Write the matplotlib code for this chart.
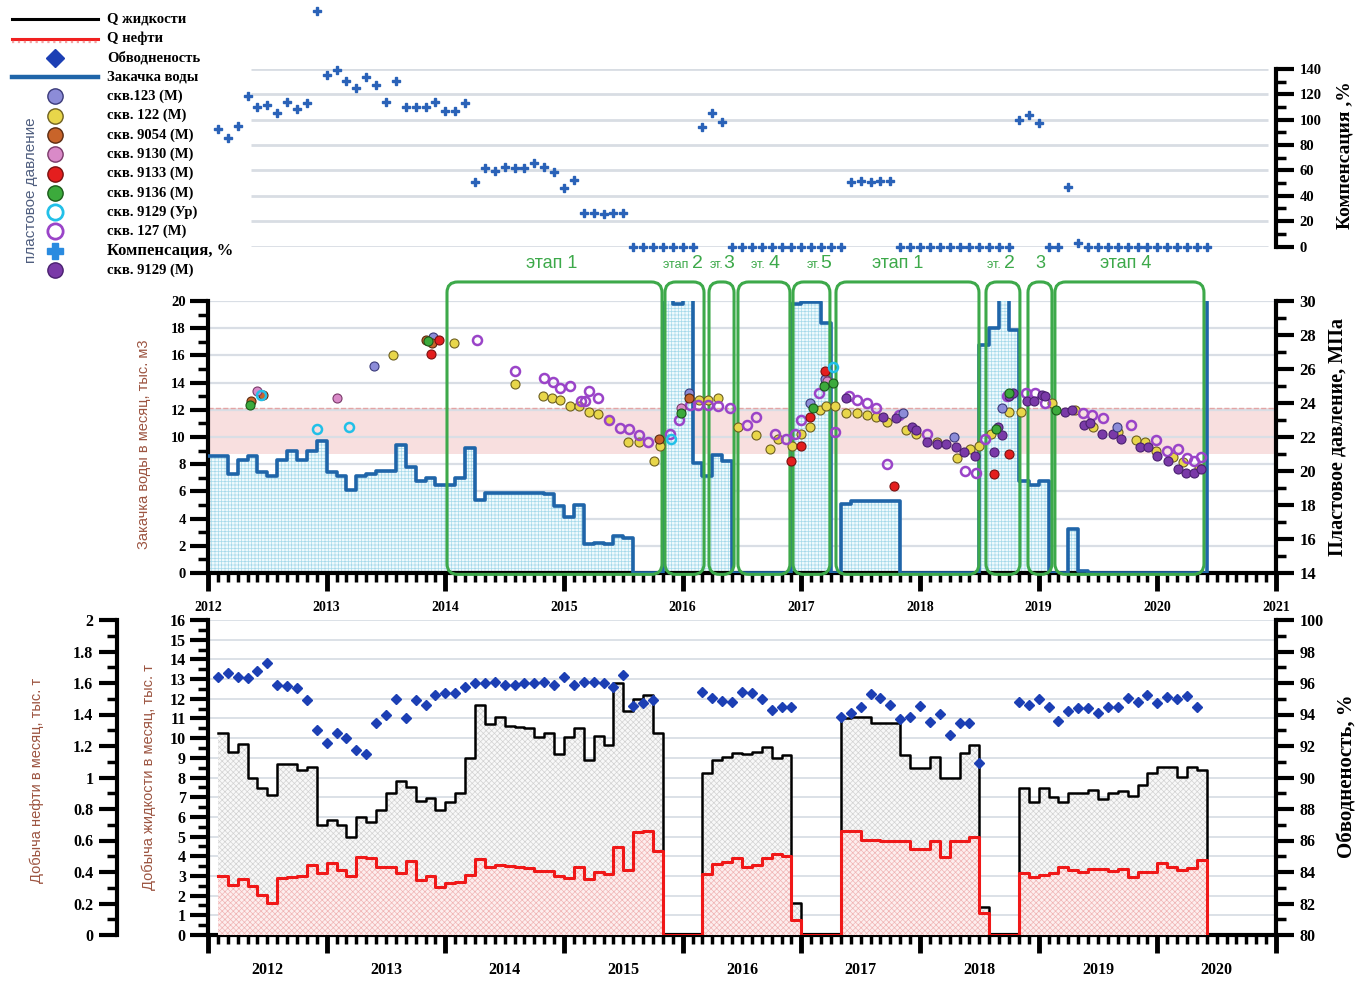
import numpy as np
import matplotlib
matplotlib.use("Agg")
import matplotlib.pyplot as plt
from matplotlib.patches import FancyBboxPatch
from matplotlib.ticker import MultipleLocator, FuncFormatter

plt.rcParams["font.family"] = ["Liberation Serif", "DejaVu Serif"]
plt.rcParams["font.weight"] = "bold"
plt.rcParams["hatch.linewidth"] = 0.5

nan = np.nan
START_YEAR = 2012

# Закачка воды, тыс. м3 в месяц (с января 2012)
injection = [8.6, 8.6, 7.3, 8.3, 8.6, 7.4, 7.1, 8.3, 9.0, 8.3, 9.0, 9.7,
             7.4, 7.1, 6.1, 7.1, 7.3, 7.5, 7.5, 9.4, 7.8, 6.8, 7.0, 6.5,
             6.5, 7.0, 9.2, 5.4, 5.9, 5.9, 5.9, 5.85, 5.9, 5.9, 5.8, 4.9,
             4.1, 5.0, 2.1, 2.2, 2.1, 2.7, 2.6, 0, 0, 0, 20.4, 19.8,
             20.4, 8.1, 7.1, 8.7, 8.2, 0, 0, 0, 0, 0, 0, 19.8,
             19.9, 19.9, 18.4, 0, 5.1, 5.3, 5.3, 5.3, 5.3, 5.3, 0, 0,
             0, 0, 0, 0, 0, 0, 16.8, 18.0, 20.4, 17.9, 6.8, 6.5,
             6.8, 0, 0, 3.2, 0.15, 0, 0, 0, 0, 0, 0, 0,
             0, 0, 0, 0, 0, 20.5]

# Компенсация, % (с февраля 2012)
compensation = [92.5, 85.4, 95.1, 118.8, 110.3, 111.7, 105.1, 114.3, 108.5, 113.0, 186.0,
                135.3, 139.2, 130.8, 124.8, 133.5, 127.4, 114.3, 130.8, 110.3, 110.3, 110.3, 114.3,
                106.9, 106.9, 113.0, 51.2, 61.8, 59.7, 62.6, 61.8, 62.3, 65.7, 63.0, 59.1,
                46.0, 52.6, 26.3, 26.3, 25.4, 26.3, 26.3, 0, 0, 0, 0, 0,
                0, 0, 94.6, 105.6, 98.5, 0, 0, 0, 0, 0, 0, 0,
                0, 0, 0, 0, 0, 51.2, 51.6, 51.0, 51.4, 51.6, 0, 0,
                0, 0, 0, 0, 0, 0, 0, 0, 0, 0, 99.8, 103.8,
                97.7, 0, 0, 47.3, 2.7, 0, 0, 0, 0, 0, 0, 0,
                0, 0, 0, 0, 0, 0]

# Добыча жидкости, тыс. т (с февраля 2012)
liquid = [10.24, 9.3, 9.7, 8.0, 7.45, 7.1, 8.7, 8.7, 8.4, 8.55, 5.6,
          5.85, 5.6, 5.0, 6.0, 5.75, 6.35, 7.2, 7.8, 7.5, 6.8, 6.95, 6.35,
          6.77, 7.23, 8.97, 11.68, 10.72, 11.09, 10.61, 10.58, 10.5, 10.07, 10.24, 9.19,
          10.04, 10.5, 8.89, 10.1, 9.65, 12.78, 11.39, 11.97, 12.19, 10.24, 0, 0,
          0, 0, 8.21, 8.89, 9.06, 9.26, 9.19, 9.31, 9.56, 9.0, 9.14, 1.64,
          0, 0, 0, 0, 11.0, 11.09, 11.09, 10.75, 10.75, 10.75, 9.14, 8.47,
          8.47, 9.06, 7.96, 7.99, 9.23, 9.65, 1.44, 0, 0, 0, 7.45, 6.77,
          7.45, 7.02, 6.77, 7.23, 7.23, 7.36, 6.89, 7.23, 7.3, 7.06, 7.62, 8.21,
          8.52, 8.52, 8.01, 8.55, 8.38, 0]

# Добыча нефти, тыс. т
oil = [0.375, 0.318, 0.354, 0.311, 0.254, 0.201, 0.36, 0.37, 0.373, 0.444, 0.391,
       0.455, 0.413, 0.375, 0.498, 0.491, 0.434, 0.434, 0.391, 0.47, 0.349, 0.375, 0.306,
       0.328, 0.338, 0.381, 0.48, 0.434, 0.444, 0.438, 0.434, 0.424, 0.409, 0.409, 0.375,
       0.364, 0.434, 0.354, 0.403, 0.385, 0.561, 0.413, 0.656, 0.663, 0.535, 0, 0,
       0, 0, 0.388, 0.449, 0.465, 0.488, 0.43, 0.444, 0.488, 0.514, 0.501, 0.095,
       0, 0, 0, 0, 0.66, 0.66, 0.603, 0.603, 0.599, 0.599, 0.599, 0.548,
       0.548, 0.599, 0.494, 0.599, 0.599, 0.625, 0.138, 0, 0, 0, 0.395, 0.37,
       0.381, 0.391, 0.434, 0.413, 0.403, 0.416, 0.416, 0.409, 0.416, 0.366, 0.403, 0.403,
       0.455, 0.434, 0.413, 0.423, 0.476, 0]

# Обводненность, %
water_cut = [96.36, 96.65, 96.4, 96.3, 96.76, 97.3, 95.87, 95.8, 95.66, 94.9, 93.0,
             92.17, 92.8, 92.5, 91.75, 91.47, 93.44, 93.97, 94.98, 93.8, 94.9, 94.6, 95.24,
             95.35, 95.38, 95.77, 95.98, 96.0, 96.08, 95.87, 95.9, 95.98, 96.0, 96.08, 95.87,
             96.4, 95.87, 96.08, 96.08, 96.0, 95.73, 96.5, 94.54, 94.7, 94.92, nan, nan,
             nan, nan, 95.45, 95.07, 94.88, 94.8, 95.45, 95.38, 94.98, 94.29, 94.5, 94.5,
             nan, nan, nan, nan, 93.86, 94.11, 94.5, 95.28, 95.03, 94.6, 93.7, 93.86,
             94.54, 93.54, 94.03, 92.7, 93.48, 93.48, 90.94, nan, nan, nan, 94.8, 94.6,
             94.98, 94.45, 93.61, 94.22, 94.43, 94.43, 94.11, 94.5, 94.45, 95.03, 94.82, 95.24,
             94.7, 95.09, 94.98, 95.17, 94.45, nan]

# Пластовое давление по скважинам, МПа
t_123 = [2013.40, 2013.90, 2016.05, 2017.07, 2017.20, 2017.86, 2018.29, 2018.69, 2019.66]
p_123 = [26.2, 27.9, 24.6, 24.0, 25.4, 23.4, 22.0, 23.7, 22.6]

t_122 = [2013.56, 2014.07, 2014.59, 2014.82, 2014.90, 2014.97, 2015.05, 2015.13, 2015.21,
         2015.29, 2015.38, 2015.54, 2015.63, 2015.76, 2015.81, 2016.14, 2016.21, 2016.30,
         2016.47, 2016.62, 2016.74, 2016.80, 2016.92, 2017.00, 2017.07, 2017.16, 2017.21,
         2017.28, 2017.38, 2017.47, 2017.55, 2017.63, 2017.72, 2017.88, 2017.97, 2018.14,
         2018.31, 2018.42, 2018.50, 2018.60, 2018.75, 2018.85, 2019.11, 2019.31, 2019.46,
         2019.67, 2019.82, 2019.90, 2019.99, 2020.13, 2020.22, 2020.35]
p_122 = [26.8, 27.5, 25.1, 24.4, 24.3, 24.2, 23.8, 23.8, 23.5,
         23.35, 23.0, 21.7, 21.7, 20.6, 21.5, 24.2, 24.2, 24.3,
         22.6, 22.1, 21.3, 21.9, 21.5, 22.2, 22.6, 23.6, 23.8,
         23.8, 23.4, 23.4, 23.3, 23.2, 22.9, 22.4, 22.2, 21.7,
         20.75, 21.3, 21.5, 22.2, 23.5, 23.5, 24.0, 23.6, 22.6,
         22.3, 21.8, 21.7, 21.2, 20.8, 20.55, 20.2]

t_9054 = [2012.36, 2012.46, 2013.84, 2013.89, 2015.80, 2016.05]
p_9054 = [24.1, 24.5, 27.7, 27.5, 21.9, 24.3]

t_9130 = [2012.41, 2013.09, 2015.99, 2017.22]
p_9130 = [24.7, 24.3, 23.7, 25.3]

t_9133 = [2013.88, 2013.95, 2016.91, 2017.00, 2017.07, 2017.20, 2017.78, 2018.62, 2018.75]
p_9133 = [26.9, 27.7, 20.6, 21.5, 23.2, 25.9, 19.1, 19.8, 21.0]

t_9136 = [2012.35, 2013.85, 2015.99, 2017.10, 2017.19, 2017.27, 2018.64, 2018.75, 2019.15]
p_9136 = [23.9, 27.65, 23.4, 23.7, 25.0, 25.2, 22.5, 24.6, 23.6]

t_9129u = [2012.45, 2012.92, 2013.19, 2015.90, 2017.27]
p_9129u = [24.5, 22.5, 22.6, 21.9, 26.1]

t_127 = [2014.27, 2014.59, 2014.83, 2014.91, 2014.97, 2015.05, 2015.14, 2015.18, 2015.21,
         2015.29, 2015.38, 2015.47, 2015.55, 2015.63, 2015.71, 2015.89, 2015.97, 2016.06,
         2016.13, 2016.21, 2016.30, 2016.40, 2016.54, 2016.62, 2016.78, 2016.87, 2016.95,
         2017.00, 2017.15, 2017.28, 2017.40, 2017.47, 2017.55, 2017.63, 2017.72, 2017.82,
         2018.06, 2018.38, 2018.47, 2018.55, 2018.73, 2018.89, 2018.97, 2019.05, 2019.37,
         2019.45, 2019.54, 2019.78, 2019.99, 2020.08, 2020.17, 2020.25, 2020.31, 2020.37]
p_127 = [27.7, 25.9, 25.45, 25.25, 24.9, 25.0, 24.1, 24.1, 24.7,
         24.3, 23.0, 22.55, 22.5, 22.1, 21.7, 22.2, 23.0, 23.9,
         23.9, 23.9, 23.8, 23.7, 22.7, 23.2, 22.2, 21.9, 22.2,
         23.0, 24.6, 22.3, 24.4, 24.2, 24.0, 23.7, 20.4, 23.3,
         22.2, 20.0, 19.9, 21.9, 24.4, 24.6, 24.6, 24.0, 23.4,
         23.3, 23.1, 22.7, 21.8, 21.2, 21.3, 20.75, 20.6, 20.8]

t_9129m = [2017.20, 2017.38, 2017.69, 2017.80, 2017.93, 2017.97, 2018.06, 2018.14, 2018.22,
           2018.30, 2018.37, 2018.46, 2018.62, 2018.66, 2018.69, 2018.75, 2018.78, 2018.90,
           2018.96, 2019.03, 2019.05, 2019.22, 2019.28, 2019.38, 2019.43, 2019.53, 2019.63,
           2019.69, 2019.85, 2019.92, 2020.00, 2020.09, 2020.17, 2020.24, 2020.31, 2020.37]
p_9129m = [25.1, 24.3, 23.2, 23.1, 22.6, 22.4, 21.7, 21.6, 21.6,
           21.4, 21.1, 20.9, 21.1, 22.6, 22.1, 24.4, 24.6, 24.1,
           24.1, 24.5, 24.4, 23.5, 23.6, 22.7, 22.8, 22.2, 22.2,
           21.9, 21.4, 21.4, 20.9, 20.6, 20.1, 19.9, 19.9, 20.1]

# Этапы
stage_start = [2014.014, 2015.851, 2016.222, 2016.466, 2016.930, 2017.292, 2018.556, 2018.910, 2019.137]
stage_end = [2015.826, 2016.180, 2016.433, 2016.904, 2017.241, 2018.497, 2018.842, 2019.112, 2020.393]
stage_prefix = ["", "этап ", "эт.", "эт. ", "эт.", "", "эт. ", "", ""]
stage_main = ["этап 1", "2", "3", "4", "5", "этап 1", "2", "3", "этап 4"]
stage_label_x = [2014.90, 2016.08, 2016.34, 2016.72, 2017.16, 2017.81, 2018.71, 2019.01, 2019.73]

legend_labels = ["Q жидкости", "Q нефти", "Обводненость", "Закачка воды",
                 "скв.123 (М)", "скв. 122 (М)", "скв. 9054 (М)", "скв. 9130 (М)",
                 "скв. 9133 (М)", "скв. 9136 (М)", "скв. 9129 (Ур)", "скв. 127 (М)",
                 "Компенсация, %", "скв. 9129 (М)"]

W, H = 1357, 982
GREEN = "#3da94a"
BROWN = "#9c5440"
INJ_BLUE = "#1f65a9"
WC_BLUE = "#1c3fb4"
SANS = "Liberation Sans"

wells = [
    (t_123, p_123, dict(mfc="#8c8cd8", mec="#3a3a7a")),
    (t_122, p_122, dict(mfc="#e8d64a", mec="#6e6020")),
    (t_9054, p_9054, dict(mfc="#c8642a", mec="#5a2a10")),
    (t_9130, p_9130, dict(mfc="#d98ac8", mec="#7a3a6a")),
    (t_9133, p_9133, dict(mfc="#e41e1e", mec="#7a1010")),
    (t_9136, p_9136, dict(mfc="#3caa3c", mec="#1a5a1a")),
    (t_9129u, p_9129u, dict(mfc="none", mec="#22c0e8", mew=1.8)),
    (t_127, p_127, dict(mfc="none", mec="#9a44c8", mew=1.8)),
    (t_9129m, p_9129m, dict(mfc="#7a3aa8", mec="#4a2070")),
]


def rect(x0, y0, x1, y1):
    # пиксели исходной картинки -> доли фигуры
    return [x0 / W, 1 - y1 / H, (x1 - x0) / W, (y1 - y0) / H]


def style_y(ax, major, minor, labelsize, pad, side):
    ax.yaxis.set_major_locator(MultipleLocator(major))
    ax.yaxis.set_minor_locator(MultipleLocator(minor))
    ax.tick_params(axis="y", which="major", direction="out", length=13, width=3,
                   labelsize=labelsize, pad=pad)
    ax.tick_params(axis="y", which="minor", direction="out", length=7, width=2.5)
    for s in ["left", "right", "top"]:
        if s != side:
            ax.spines[s].set_visible(False)
    ax.spines[side].set_visible(True)
    ax.spines[side].set_linewidth(3)


def style_x(ax):
    ax.set_xlim(2012, 2021)
    ax.set_xticks(list(range(2012, 2022)))
    ax.xaxis.set_minor_locator(MultipleLocator(1 / 12))
    ax.tick_params(axis="x", which="major", direction="out", length=13, width=3.5)
    ax.tick_params(axis="x", which="minor", direction="out", length=6.5, width=2.5)
    ax.spines["bottom"].set_linewidth(3)


fig = plt.figure(figsize=(13.57, 9.82), dpi=100)

# ---------- компенсация ----------
ax_top = fig.add_axes(rect(208, 69, 1276, 246.5))
ax_top.set_xlim(2012, 2021)
ax_top.set_ylim(0, 140)
ax_top.patch.set_visible(False)
ax_top.yaxis.tick_right()
style_y(ax_top, 20, 10, 10.5, 4, "right")
ax_top.spines["bottom"].set_visible(False)
ax_top.tick_params(axis="x", bottom=False, labelbottom=False)
ax_top.hlines(np.arange(0, 141, 20), 2012.36, 2020.93, color="#d8dde3", lw=2, zorder=0)
x_comp = START_YEAR + np.arange(1, len(compensation) + 1) / 12
ax_top.plot(x_comp, compensation, "P", color="#2a62b8", ms=6, ls="none", clip_on=False)

# ---------- закачка и пластовое давление ----------
ax_mid = fig.add_axes(rect(208, 301, 1276, 573))
ax_mid.set_ylim(0, 20)
style_x(ax_mid)
ax_mid.set_xticklabels([str(y) for y in range(2012, 2022)], fontsize=10)
ax_mid.tick_params(axis="x", which="major", pad=7)
style_y(ax_mid, 2, 1, 10.5, 3, "left")
ax_mid.set_axisbelow(True)
ax_mid.grid(axis="y", which="major", color="#d9dee5", lw=1.6)
ax_mid.axhspan(8.75, 12.1, facecolor="#f8dfdf", lw=0, zorder=0.5)
ax_mid.axhline(12.1, color="#e3a5a5", ls="--", lw=1, zorder=0.6)

x_inj = START_YEAR + np.arange(len(injection)) / 12
ax_mid.fill_between(x_inj, injection, step="post", facecolor="#f0fafd", edgecolor="#a6d9ea",
                    hatch="+++++", linewidth=0, zorder=1)
ax_mid.step(x_inj, injection, where="post", color=INJ_BLUE, lw=2.6, zorder=3)

aspect = (1068 / 9) / (272 / 20)
for x0, x1 in zip(stage_start, stage_end):
    box = FancyBboxPatch((x0, -0.1), x1 - x0, 21.5,
                         boxstyle="round,pad=0,rounding_size=0.09",
                         mutation_aspect=aspect, fc="none", ec=GREEN, lw=2.2,
                         zorder=4, clip_on=False)
    ax_mid.add_patch(box)

for xs, pre, main in zip(stage_label_x, stage_prefix, stage_main):
    if pre:
        ax_mid.text(xs, 22.4, pre, ha="right", va="baseline", fontsize=9, color=GREEN,
                    family=SANS, weight="normal", clip_on=False)
        ax_mid.text(xs, 22.4, main, ha="left", va="baseline", fontsize=14, color=GREEN,
                    family=SANS, weight="normal", clip_on=False)
    else:
        ax_mid.text(xs, 22.4, main, ha="center", va="baseline", fontsize=13, color=GREEN,
                    family=SANS, weight="normal", clip_on=False)

ax_p = ax_mid.twinx()
ax_p.set_ylim(14, 30)
style_y(ax_p, 2, 1, 12, 4, "right")
ax_p.spines["bottom"].set_visible(False)
ax_mid.spines["right"].set_visible(False)
ax_mid.spines["top"].set_visible(False)
for i in [1, 7, 8, 0, 2, 3, 4, 5, 6]:
    t, p, st = wells[i]
    ax_p.plot(t, p, "o", ls="none", ms=6.5, mew=st.get("mew", 0.8),
              mfc=st["mfc"], mec=st["mec"], zorder=5)

# ---------- добыча ----------
ax_bot = fig.add_axes(rect(208, 620, 1276, 935))
ax_bot.set_ylim(0, 16)
style_x(ax_bot)
ax_bot.set_xticklabels([""] * 10)
style_y(ax_bot, 1, 0.5, 11.5, 3, "left")
ax_bot.set_axisbelow(True)
ax_bot.grid(axis="y", which="major", color="#d9dee5", lw=1.3)
for y in range(2012, 2021):
    ax_bot.text(y + 0.5, -0.112, str(y), transform=ax_bot.get_xaxis_transform(),
                ha="center", va="center", fontsize=11.5)

x_prod = START_YEAR + np.arange(1, len(liquid) + 1) / 12
ax_bot.fill_between(x_prod, liquid, step="post", facecolor="#f8f8f8", edgecolor="#d2d2d2",
                    hatch="xxxxxx", linewidth=0, zorder=1)
ax_bot.step(x_prod, liquid, where="post", color="black", lw=1.8, zorder=3)

ax_oil = ax_bot.twinx()
ax_oil.set_ylim(0, 2)
ax_oil.spines["left"].set_position(("axes", (117 - 208) / 1068))
ax_oil.yaxis.set_ticks_position("left")
ax_oil.yaxis.set_label_position("left")
style_y(ax_oil, 0.2, 0.1, 11.5, 4, "left")
ax_oil.spines["bottom"].set_visible(False)
ax_oil.yaxis.set_major_formatter(FuncFormatter(lambda v, pos: f"{v:g}"))
ax_oil.fill_between(x_prod, oil, step="post", facecolor="#fdeeee", edgecolor="#f0b4b4",
                    hatch="xxxxxx", linewidth=0, zorder=1)
ax_oil.step(x_prod, oil, where="post", color="#f01818", lw=2.2, zorder=3)

ax_wc = ax_bot.twinx()
ax_wc.set_ylim(80, 100)
style_y(ax_wc, 2, 1, 11.5, 4, "right")
ax_wc.spines["bottom"].set_visible(False)
ax_wc.plot(x_prod, water_cut, "D", color=WC_BLUE, ms=5.2, ls="none")

# ---------- подписи осей ----------
fig.text(1345 / W, 1 - 155 / H, "Компенсация ,%", rotation=90, ha="center", va="center", fontsize=14)
fig.text(1338 / W, 1 - 437 / H, "Пластовое давление, МПа", rotation=90, ha="center", va="center", fontsize=14.5)
fig.text(1348 / W, 1 - 776 / H, "Обводненость, %", rotation=90, ha="center", va="center", fontsize=15)
fig.text(144 / W, 1 - 444 / H, "Закачка воды в месяц, тыс. м3", rotation=90, ha="center",
         va="center", fontsize=10.5, family=SANS, weight="normal", color=BROWN)
fig.text(37 / W, 1 - 780 / H, "Добыча нефти в месяц, тыс. т", rotation=90, ha="center",
         va="center", fontsize=10.5, family=SANS, weight="normal", color=BROWN)
fig.text(149 / W, 1 - 777 / H, "Добыча жидкости в месяц, тыс. т", rotation=90, ha="center",
         va="center", fontsize=10.5, family=SANS, weight="normal", color=BROWN)
fig.text(31 / W, 1 - 190 / H, "пластовое давление", rotation=90, ha="center", va="center",
         fontsize=11, family=SANS, weight="normal", color="#4e5d7e")

# ---------- легенда ----------
leg = fig.add_axes([0, 0, 1, 1])
leg.set_xlim(0, W)
leg.set_ylim(H, 0)
leg.axis("off")
rows = np.linspace(19.3, 270, len(legend_labels))
for i, (label, y) in enumerate(zip(legend_labels, rows)):
    if i == 0:
        leg.plot([12, 98], [y, y], color="black", lw=2.2)
    elif i == 1:
        leg.plot([12, 98], [y, y], color="#f02020", lw=2.2)
        leg.plot([12, 98], [y + 3.5, y + 3.5], color="#f3a3a3", lw=1.6, ls=":")
    elif i == 2:
        leg.plot(55, y, "D", color=WC_BLUE, ms=9)
    elif i == 3:
        leg.plot([12, 98], [y, y], color=INJ_BLUE, lw=3.2)
    elif i == 12:
        leg.plot(55, y, "P", color="#2a8be0", ms=12)
    else:
        st = wells[i - 4][2] if i < 12 else wells[8][2]
        leg.plot(55, y, "o", ms=11, mfc=st["mfc"], mec=st["mec"],
                 mew=2 if st["mfc"] == "none" else 1)
    leg.text(107, y, label, va="center", ha="left", fontsize=12 if i == 12 else 10.5)

fig.savefig("out.png", dpi=100)
